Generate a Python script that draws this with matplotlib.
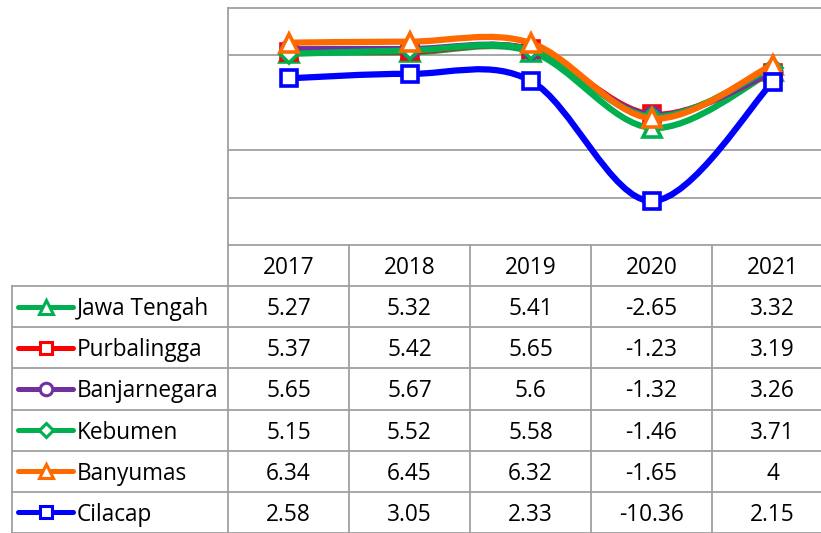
import matplotlib
matplotlib.use("Agg")
import matplotlib.pyplot as plt
from matplotlib.path import Path
from matplotlib.patches import PathPatch
import numpy as np

# data
years = ["2017", "2018", "2019", "2020", "2021"]
names = ["Jawa Tengah", "Purbalingga", "Banjarnegara", "Kebumen", "Banyumas", "Cilacap"]
jawa_tengah = [5.27, 5.32, 5.41, -2.65, 3.32]
purbalingga = [5.37, 5.42, 5.65, -1.23, 3.19]
banjarnegara = [5.65, 5.67, 5.6, -1.32, 3.26]
kebumen = [5.15, 5.52, 5.58, -1.46, 3.71]
banyumas = [6.34, 6.45, 6.32, -1.65, 4]
cilacap = [2.58, 3.05, 2.33, -10.36, 2.15]
series = [jawa_tengah, purbalingga, banjarnegara, kebumen, banyumas, cilacap]

colors = ["#00B050", "#FF0000", "#7030A0", "#00B050", "#FF6A00", "#0000FF"]
markers = ["^", "s", "o", "D", "^", "s"]
msizes = [13, 12, 12, 9, 13, 12]
key_sizes = [10, 9, 9, 7, 10, 9]

plt.rcParams['font.family'] = ['Open Sans', 'DejaVu Sans']
grid_c = "#A0A0A0"
W, H = 821, 533
fig = plt.figure(figsize=(W / 100, H / 100), dpi=100)

col_w = 121.0
left_px = 228
top_px = 8
bottom_px = 245

# chart
ax = fig.add_axes([left_px / W, 1 - bottom_px / H, 5 * col_w / W, (bottom_px - top_px) / H])
ax.set_xlim(0, 5)
ax.set_ylim(-15, 10)
for v in [-10, -5, 5]:
    ax.axhline(v, color=grid_c, lw=1.3, zorder=0)
for s in ["right", "bottom"]:
    ax.spines[s].set_visible(False)
for s in ["left", "top"]:
    ax.spines[s].set_color(grid_c)
    ax.spines[s].set_linewidth(1.3)
ax.set_xticks([])
ax.set_yticks([])


def smooth_path(xs, ys):
    pts = np.column_stack([xs, ys])
    n = len(pts)
    verts = [pts[0]]
    codes = [Path.MOVETO]
    for i in range(n - 1):
        p0 = pts[max(i - 1, 0)]
        p1 = pts[i]
        p2 = pts[i + 1]
        p3 = pts[min(i + 2, n - 1)]
        c1 = p1 + (p2 - p0) / 6.0
        c2 = p2 - (p3 - p1) / 6.0
        verts += [c1, c2, p2]
        codes += [Path.CURVE4] * 3
    return Path(verts, codes)


xs = np.arange(len(years)) + 0.5
for k, vals in enumerate(series):
    patch = PathPatch(smooth_path(xs, vals), facecolor="none", edgecolor=colors[k],
                      lw=4.5, zorder=2 + k, capstyle="round", joinstyle="round")
    ax.add_patch(patch)
    ax.plot(xs, vals, linestyle="none", marker=markers[k], ms=msizes[k],
            mfc="white", mec=colors[k], mew=2.6, zorder=2.5 + k, clip_on=False)

# data table
leg_w = 216.0 / col_w
ax_t = fig.add_axes([(left_px - 216) / W, 0, (216 + 5 * col_w) / W, (H - bottom_px) / H])
ax_t.set_xlim(-leg_w, 5)
ax_t.set_ylim(7, 0)
ax_t.axis("off")

ax_t.plot([0, 5], [0, 0], color=grid_c, lw=1.3, clip_on=False)
for r in range(1, 8):
    ax_t.plot([-leg_w, 5], [r, r], color=grid_c, lw=1.3, clip_on=False)
for c in range(0, 6):
    ax_t.plot([c, c], [0, 7], color=grid_c, lw=1.3, clip_on=False)
ax_t.plot([-leg_w, -leg_w], [1, 7], color=grid_c, lw=1.3, clip_on=False)

fs = 16.3
txt_c = "#000000"
for i, y in enumerate(years):
    ax_t.text(i + 0.5, 0.57, y, ha="center", va="center", fontsize=fs, color=txt_c)

for k, (name, vals) in enumerate(zip(names, series)):
    row = k + 1.5
    x0 = -leg_w + 6 / col_w
    x1 = -leg_w + 61 / col_w
    ax_t.plot([x0, x1], [row, row], color=colors[k], lw=3.6, solid_capstyle="round")
    ax_t.plot([(x0 + x1) / 2], [row], marker=markers[k], ms=key_sizes[k],
              mfc="white", mec=colors[k], mew=2.2, linestyle="none")
    ax_t.text(-leg_w + 65 / col_w, row + 0.06, name, ha="left", va="center", fontsize=fs, color=txt_c)
    for i, v in enumerate(vals):
        ax_t.text(i + 0.5, row + 0.06, f"{v:g}", ha="center", va="center", fontsize=fs, color=txt_c)

fig.savefig("out.png", dpi=100)
